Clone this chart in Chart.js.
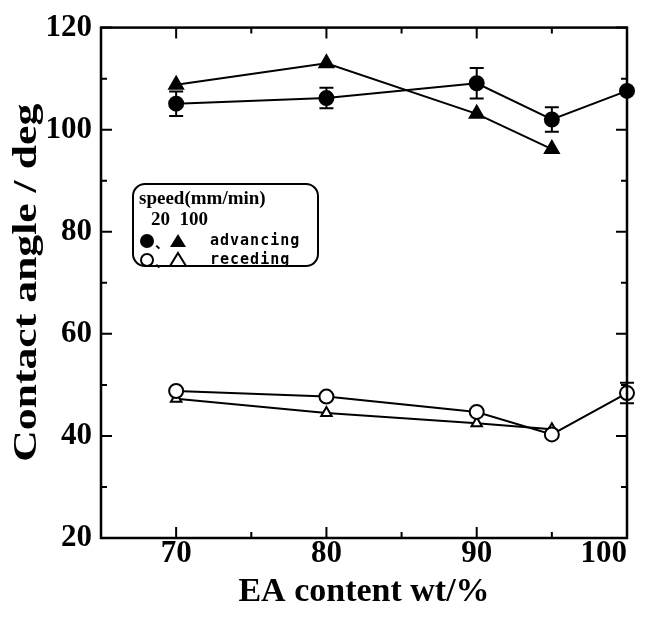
<!DOCTYPE html>
<html>
<head>
<meta charset="utf-8">
<script src="https://cdn.jsdelivr.net/npm/chart.js@4.4.1/dist/chart.umd.min.js"></script>
<style>
  html, body { margin: 0; padding: 0; background: #fff; }
  #wrap { width: 650px; height: 621px; }
</style>
</head>
<body>
<div id="wrap"><canvas id="angleChart"></canvas></div>
<script>
// ---- data ----
const contentPct = [70, 80, 90, 95, 100];          // EA content wt/%
const adv20 = [105.1, 106.2, 109.1, 102.0, 107.6];  // advancing, 20 mm/min
const adv20Err = [2.4, 2.0, 3.0, 2.4, 0];
const adv100 = [108.8, 113.0, 103.1, 96.2];         // advancing, 100 mm/min
const rec20 = [48.8, 47.7, 44.7, 40.3, 48.4];       // receding, 20 mm/min
const rec20Err = [0, 0, 0, 0, 2.0];
const rec100 = [47.3, 44.5, 42.5, 41.3];            // receding, 100 mm/min

const xTickLabels = [70, 80, 90, 100];
const yTickLabels = [20, 40, 60, 80, 100, 120];
const yTitle = 'Contact angle / deg';

const SERIF = "'Liberation Serif', 'Times New Roman', serif";

const toPoints = (vals) => vals.map((v, i) => ({ x: contentPct[i], y: v }));

// frame + inward ticks on all four sides
const framePlugin = {
    id: 'frame',
    afterDraw(chart) {
        const { ctx, chartArea: a, scales } = chart;
        ctx.save();
        ctx.strokeStyle = '#000';
        ctx.lineWidth = 2.5;
        ctx.strokeRect(a.left, a.top, a.right - a.left, a.bottom - a.top);
        ctx.lineWidth = 2;
        scales.x.ticks.forEach(t => {
            const px = scales.x.getPixelForValue(t.value);
            const len = t.value % 10 === 0 ? 11 : 6;
            ctx.beginPath();
            ctx.moveTo(px, a.bottom); ctx.lineTo(px, a.bottom - len);
            ctx.moveTo(px, a.top); ctx.lineTo(px, a.top + len);
            ctx.stroke();
        });
        scales.y.ticks.forEach(t => {
            const py = scales.y.getPixelForValue(t.value);
            const len = t.value % 20 === 0 ? 11 : 6;
            ctx.beginPath();
            ctx.moveTo(a.left, py); ctx.lineTo(a.left + len, py);
            ctx.moveTo(a.right, py); ctx.lineTo(a.right - len, py);
            ctx.stroke();
        });

        // y title, a bit condensed like the printed figure
        ctx.translate(27, (a.top + a.bottom) / 2);
        ctx.rotate(-Math.PI / 2);
        ctx.scale(1.15, 0.88);
        ctx.fillStyle = '#000';
        ctx.font = `bold 38px ${SERIF}`;
        ctx.textAlign = 'center';
        ctx.textBaseline = 'middle';
        ctx.fillText(yTitle, 0, 0);
        ctx.restore();
    }
};

// error bars from dataset.errors
const errorBarPlugin = {
    id: 'errorBars',
    afterDatasetsDraw(chart) {
        const { ctx, scales } = chart;
        ctx.save();
        ctx.strokeStyle = '#000';
        ctx.lineWidth = 2;
        chart.data.datasets.forEach(ds => {
            if (!ds.errors) return;
            ds.data.forEach((p, i) => {
                const e = ds.errors[i];
                if (!e) return;
                const px = scales.x.getPixelForValue(p.x);
                const top = scales.y.getPixelForValue(p.y + e);
                const bot = scales.y.getPixelForValue(p.y - e);
                ctx.beginPath();
                ctx.moveTo(px, top); ctx.lineTo(px, bot);
                ctx.moveTo(px - 7, top); ctx.lineTo(px + 7, top);
                ctx.moveTo(px - 7, bot); ctx.lineTo(px + 7, bot);
                ctx.stroke();
            });
        });
        ctx.restore();
    }
};

// boxed key in the upper left
const keyPlugin = {
    id: 'keyBox',
    afterDraw(chart) {
        const ctx = chart.ctx;
        const x0 = 133, y0 = 184, w = 185, h = 82;
        ctx.save();
        ctx.strokeStyle = '#000';
        ctx.fillStyle = '#fff';
        ctx.lineWidth = 2;
        ctx.beginPath();
        ctx.roundRect(x0, y0, w, h, 12);
        ctx.fill();
        ctx.stroke();

        ctx.fillStyle = '#000';
        ctx.textBaseline = 'middle';
        ctx.font = `bold 19px ${SERIF}`;
        ctx.fillText('speed(mm/min)', 139, 199);
        ctx.fillText('20  100', 151, 220);

        const rows = [
            { y: 241, filled: true, label: 'advancing' },
            { y: 260, filled: false, label: 'receding' }
        ];
        rows.forEach(r => {
            ctx.lineWidth = 2;
            // circle
            ctx.beginPath();
            ctx.arc(147, r.y, r.filled ? 7 : 6, 0, Math.PI * 2);
            if (r.filled) ctx.fill(); else ctx.stroke();
            // separator
            ctx.font = `bold 14px 'Noto Sans CJK JP', sans-serif`;
            ctx.fillText('、', 155, r.y + 2);
            // triangle
            ctx.beginPath();
            ctx.moveTo(178, r.y - 7);
            ctx.lineTo(186, r.y + 6);
            ctx.lineTo(170, r.y + 6);
            ctx.closePath();
            if (r.filled) ctx.fill(); else ctx.stroke();
            // label
            ctx.font = `bold 15px 'DejaVu Sans Mono', monospace`;
            ctx.letterSpacing = '1px';
            ctx.fillText(r.label, 210, r.y);
            ctx.letterSpacing = '0px';
        });
        ctx.restore();
    }
};

const lineStyle = {
    showLine: true,
    borderColor: '#000',
    borderWidth: 2,
    tension: 0,
    clip: false,
    pointBorderColor: '#000',
    pointBorderWidth: 2,
    pointHoverRadius: 7
};

new Chart(document.getElementById('angleChart'), {
    type: 'scatter',
    data: {
        datasets: [
            { ...lineStyle, label: 'advancing 20', data: toPoints(adv20), errors: adv20Err,
              pointStyle: 'circle', pointRadius: 7, pointBackgroundColor: '#000' },
            { ...lineStyle, label: 'advancing 100', data: toPoints(adv100),
              pointStyle: 'triangle', pointRadius: 8, pointBackgroundColor: '#000' },
            { ...lineStyle, label: 'receding 20', data: toPoints(rec20), errors: rec20Err,
              pointStyle: 'circle', pointRadius: 7, pointBackgroundColor: '#fff' },
            { ...lineStyle, label: 'receding 100', data: toPoints(rec100),
              pointStyle: 'triangle', pointRadius: 6, pointBackgroundColor: '#fff' }
        ]
    },
    options: {
        responsive: true,
        maintainAspectRatio: false,
        animation: false,
        layout: { padding: { top: 22, right: 23, left: 0, bottom: 0 } },
        plugins: {
            legend: { display: false },
            tooltip: { enabled: false }
        },
        scales: {
            x: {
                type: 'linear',
                min: 65,
                max: 100,
                afterFit: (s) => { s.height = 83; },
                grid: { display: false, drawTicks: false },
                border: { display: false },
                ticks: {
                    stepSize: 5,
                    padding: 0,
                    align: 'inner',
                    color: '#000',
                    font: { family: SERIF, size: 31, weight: 'bold', lineHeight: 1 },
                    callback: (v) => xTickLabels.includes(v) ? String(v) : ''
                },
                title: {
                    display: true,
                    text: 'EA content wt/%',
                    color: '#000',
                    padding: { top: 0, bottom: 8 },
                    font: { family: SERIF, size: 34, weight: 'bold' }
                }
            },
            y: {
                min: 20,
                max: 120,
                afterFit: (s) => { s.width = 101; },
                grid: { display: false, drawTicks: false },
                border: { display: false },
                ticks: {
                    stepSize: 10,
                    padding: 9,
                    color: '#000',
                    font: { family: SERIF, size: 31, weight: 'bold' },
                    callback: (v) => yTickLabels.includes(v) ? String(v) : ''
                },
                title: { display: false }
            }
        }
    },
    plugins: [framePlugin, errorBarPlugin, keyPlugin]
});
</script>
</body>
</html>
